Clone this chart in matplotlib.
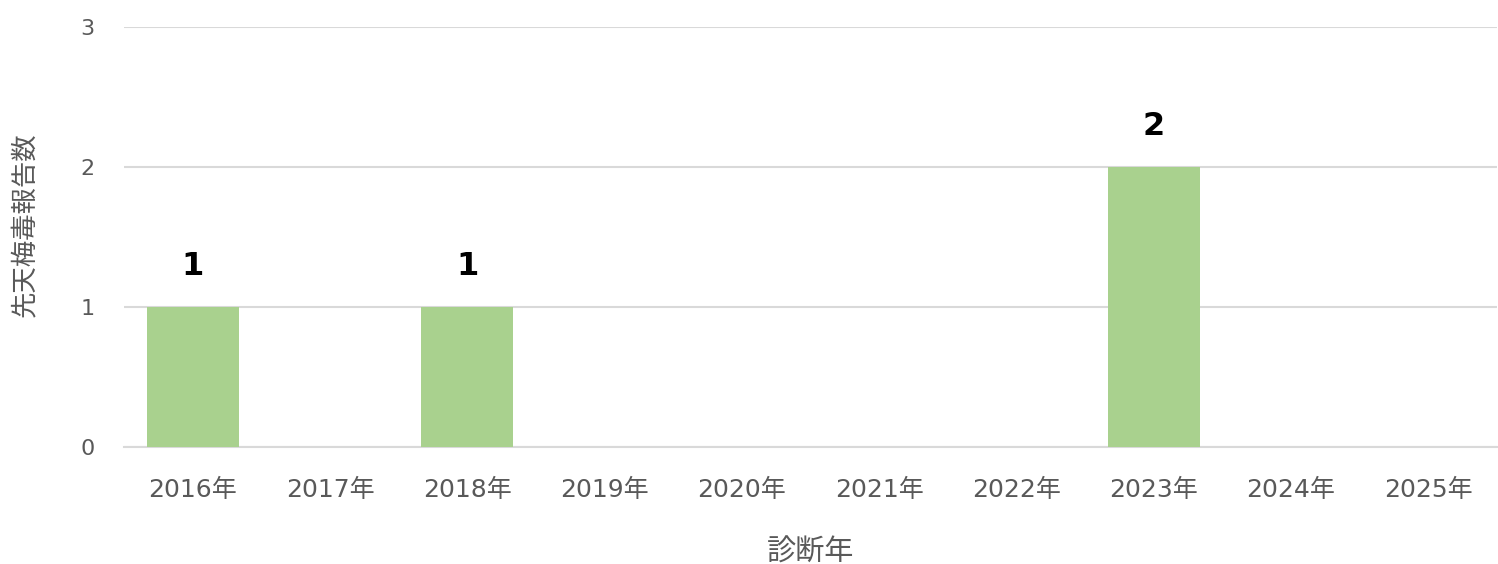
import matplotlib
matplotlib.use("Agg")
import matplotlib.pyplot as plt

plt.rcParams['font.family'] = ['DejaVu Sans', 'Noto Sans CJK JP']

years = ["2016年", "2017年", "2018年", "2019年", "2020年",
         "2021年", "2022年", "2023年", "2024年", "2025年"]
counts = [1, 0, 1, 0, 0, 0, 0, 2, 0, 0]
y_ticks = [0, 1, 2, 3]

text_color = "#595959"
bar_color = "#A9D18E"

fig = plt.figure(figsize=(14.98, 5.64), dpi=100)
ax = fig.add_axes([0.0828, 0.2074, 0.9165, 0.7446])

x = list(range(len(years)))
ax.bar(x, counts, width=0.67, color=bar_color, zorder=3)

# value labels above the non-zero bars
for xi, v in zip(x, counts):
    if v > 0:
        ax.text(xi, v + 0.29, str(v), ha="center", va="center",
                fontsize=23, fontweight="bold", color="black")

ax.set_xlim(-0.5, len(years) - 0.5)
ax.set_ylim(0, 3)
ax.set_yticks(y_ticks)
ax.set_xticks(x)
ax.set_xticklabels(years)
ax.yaxis.grid(True, color="#D9D9D9", linewidth=1.5, zorder=0)
ax.tick_params(axis="x", length=0, labelsize=18, colors=text_color, pad=22)
ax.tick_params(axis="y", length=0, labelsize=16, colors=text_color, pad=21)

for side in ["top", "right", "left"]:
    ax.spines[side].set_visible(False)
ax.spines["bottom"].set_color("#D9D9D9")
ax.spines["bottom"].set_linewidth(1.5)

ax.set_xlabel("診断年", fontsize=21, color=text_color, va="center")
ax.set_ylabel("先天梅毒報告数", fontsize=19, color=text_color, va="center")
ax.xaxis.set_label_coords(0.5, -0.252)
ax.yaxis.set_label_coords(-0.072, 0.53)

fig.savefig("out.png", dpi=100)
